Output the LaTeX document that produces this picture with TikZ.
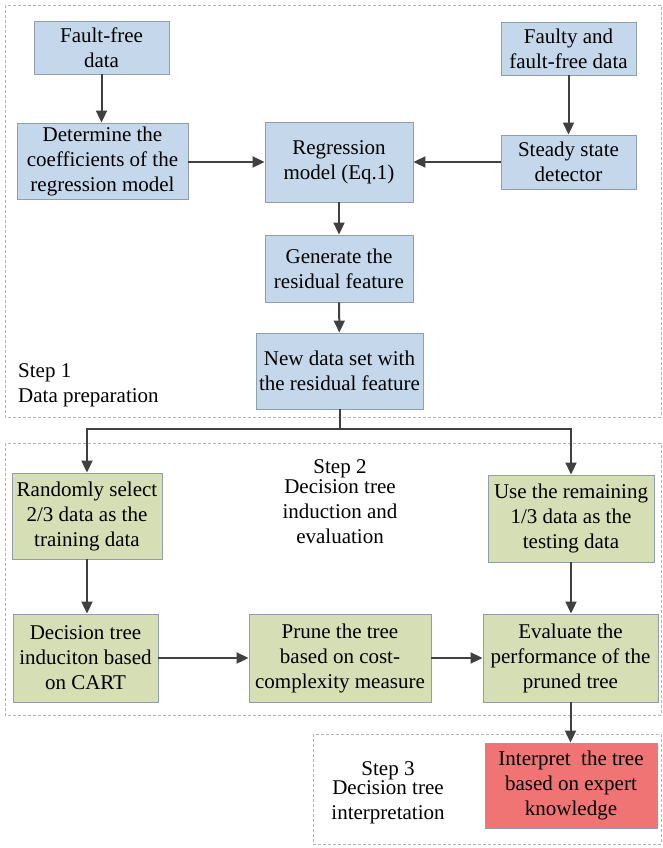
\documentclass[tikz,border=0pt]{standalone}
\usepackage{fontspec}
\setmainfont{Liberation Serif}
\usetikzlibrary{arrows.meta}
\definecolor{boxblue}{HTML}{C5D8EB}
\definecolor{boxgreen}{HTML}{D6DEB6}
\definecolor{boxred}{HTML}{F07474}
\definecolor{boxline}{HTML}{8E9EAA}
\definecolor{arrgray}{HTML}{404040}
\begin{document}
\begin{tikzpicture}[x=1pt, y=-1pt,
    every node/.style={font=\fontsize{21}{25}\selectfont, align=center, inner sep=0pt},
    stepbox/.style={draw=boxline, line width=0.9pt, rectangle},
    blue/.style={stepbox, fill=boxblue},
    green/.style={stepbox, fill=boxgreen},
    red/.style={stepbox, fill=boxred},
    arr/.style={draw=arrgray, line width=2pt, -{Triangle[length=12pt,width=11pt]}},
    frame/.style={draw=gray!60, line width=0.9pt, dash pattern=on 3pt off 2pt}]
        \useasboundingbox (0,0) rectangle (663,848);
        \draw[frame] (5,5) rectangle (661,417);
        \draw[frame] (5,443) rectangle (661,715);
        \draw[frame] (313,734) rectangle (661,844);
        \node[blue, minimum width=135, minimum height=53] (ffd) at (101.5,47.5) {Fault-free\\data};
        \node[blue, minimum width=135, minimum height=53] (fad) at (568.5,48.5) {Faulty and\\fault-free data};
        \node[blue, minimum width=171, minimum height=76] (coef) at (102.5,161) {Determine the\\coefficients of the\\regression model};
        \node[blue, minimum width=148, minimum height=80] (reg) at (339,162) {Regression\\model (Eq.1)};
        \node[blue, minimum width=135, minimum height=54] (ssd) at (568.5,162) {Steady state\\detector};
        \node[blue, minimum width=148, minimum height=67] (gen) at (339,268.5) {Generate the\\residual feature};
        \node[blue, minimum width=167, minimum height=76] (newd) at (339.5,371) {New data set with\\the residual feature};
        \node[green, minimum width=150, minimum height=86] (rnd) at (87,516) {Randomly select\\2/3 data as the\\training data};
        \node[green, minimum width=166, minimum height=87] (rem) at (571,518.5) {Use the remaining\\1/3 data as the\\testing data};
        \node[green, minimum width=145, minimum height=88] (dti) at (85.5,658) {Decision tree\\induciton based\\on CART};
        \node[green, minimum width=182, minimum height=88] (prn) at (340,658) {Prune the tree\\based on cost-\\complexity measure};
        \node[green, minimum width=175, minimum height=88] (evl) at (570.5,658) {Evaluate the\\performance of the\\pruned tree};
        \node[red, minimum width=172, minimum height=85] (itp) at (571,785.5) {Interpret\ \ the tree\\based on expert\\knowledge};
        \node[anchor=north west, align=left] (lab1) at (18,363) {Step 1\\Data preparation};
        \node[anchor=north] (lab2) at (340,459.5) {Step 2\\[-5pt]Decision tree\\induction and\\evaluation};
        \node[anchor=north] (lab3) at (388,761.5) {Step 3\\[-6pt]Decision tree\\interpretation};
        \coordinate (fork) at (339.5,429);
        \draw[arr] (ffd.south) -- (ffd.south |- coef.north);
        \draw[arr] (fad) -- (ssd);
        \draw[arr] (coef.east |- reg.west) -- (reg.west);
        \draw[arr] (ssd) -- (reg);
        \draw[arr] (reg) -- (gen);
        \draw[arr] (gen) -- (newd);
        \draw[draw=arrgray, line width=2pt] (newd.south) -- (fork);
        \draw[arr] (fork) -| (rnd.north);
        \draw[arr] (fork) -| (rem.north);
        \draw[arr] (rnd.south) -- (rnd.south |- dti.north);
        \draw[arr] (dti) -- (prn);
        \draw[arr] (prn) -- (evl);
        \draw[arr] (rem.south) -- (rem.south |- evl.north);
        \draw[arr] (evl.south) -- (evl.south |- itp.north);
    \end{tikzpicture}
\end{document}
